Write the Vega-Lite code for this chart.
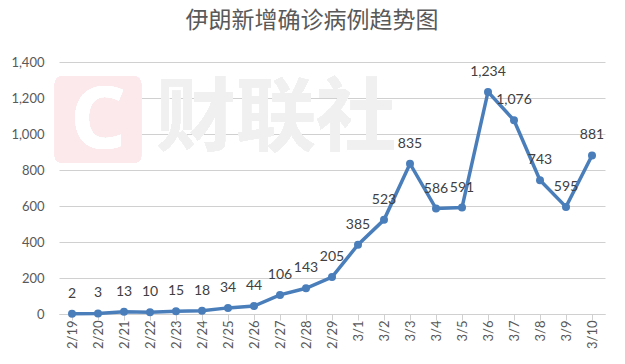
{
  "$schema": "https://vega.github.io/schema/vega-lite/v6.json",
  "width": 546,
  "height": 252,
  "autosize": "none",
  "padding": {"left": 59, "top": 62, "right": 20, "bottom": 50},
  "background": "white",
  "title": {
    "text": "伊朗新增确诊病例趋势图",
    "anchor": "middle",
    "frame": "group",
    "dx": -20,
    "offset": 12,
    "baseline": "middle",
    "font": "Noto Sans CJK SC",
    "fontSize": 23,
    "fontWeight": "normal",
    "color": "#595959"
  },
  "config": {
    "view": {"stroke": null},
    "axis": {"labelFont": "Lato", "labelColor": "#595959"},
    "axisY": {"grid": true, "gridColor": "#d0d0d0", "gridOpacity": 1, "gridWidth": 1}
  },
  "data": {
    "values": [
      {"date": "2/19", "cases": 2},
      {"date": "2/20", "cases": 3},
      {"date": "2/21", "cases": 13},
      {"date": "2/22", "cases": 10},
      {"date": "2/23", "cases": 15},
      {"date": "2/24", "cases": 18},
      {"date": "2/25", "cases": 34},
      {"date": "2/26", "cases": 44},
      {"date": "2/27", "cases": 106},
      {"date": "2/28", "cases": 143},
      {"date": "2/29", "cases": 205},
      {"date": "3/1", "cases": 385},
      {"date": "3/2", "cases": 523},
      {"date": "3/3", "cases": 835},
      {"date": "3/4", "cases": 586},
      {"date": "3/5", "cases": 591},
      {"date": "3/6", "cases": 1234},
      {"date": "3/7", "cases": 1076},
      {"date": "3/8", "cases": 743},
      {"date": "3/9", "cases": 595},
      {"date": "3/10", "cases": 881}
    ]
  },
  "resolve": {"axis": {"x": "independent", "y": "independent"}},
  "layer": [
    {
      "mark": {"type": "line", "color": "#4a7ebb", "strokeWidth": 3.5, "opacity": 0},
      "encoding": {
        "x": {
          "field": "date", "type": "nominal",
          "scale": {"domain": ["2/19","2/20","2/21","2/22","2/23","2/24","2/25","2/26","2/27","2/28","2/29","3/1","3/2","3/3","3/4","3/5","3/6","3/7","3/8","3/9","3/10"]},
          "axis": {"orient": "bottom", "title": null, "labelAngle": -90, "labelPadding": 6, "labelFontSize": 13, "ticks": false, "domain": false, "grid": false}
        },
        "y": {"field": "cases", "type": "quantitative", "scale": {"domain": [0, 1400]}, "axis": {"orient": "left", "title": null, "values": [0,200,400,600,800,1000,1200,1400], "labelExpr": "format(datum.value, ',')", "labelFontSize": 13, "labelPadding": 15, "ticks": false, "domain": false, "grid": true, "gridColor": "#d0d0d0", "gridWidth": 1, "gridOpacity": 1}}
      }
    },
    {
      "mark": {"type": "point", "filled": true, "opacity": 1, "color": "#fbe9ec", "shape": "M -0.78,-1 L 0.78,-1 Q 1,-1 1,-0.78 L 1,0.78 Q 1,1 0.78,1 L -0.78,1 Q -1,1 -1,0.78 L -1,-0.78 Q -1,-1 -0.78,-1 Z", "size": 7569},
      "encoding": {
        "x": {"datum": "2/20", "type": "nominal", "axis": null, "scale": {"domain": ["2/19","2/20","2/21","2/22","2/23","2/24","2/25","2/26","2/27","2/28","2/29","3/1","3/2","3/3","3/4","3/5","3/6","3/7","3/8","3/9","3/10"]}},
        "y": {"datum": 1080, "type": "quantitative", "scale": {"domain": [0, 1400]}, "axis": null}
      }
    },
    {
      "mark": {"type": "text", "text": "C", "font": "Noto Sans", "fontWeight": "bold", "fontSize": 86, "color": "white", "baseline": "middle", "align": "center", "dy": 2},
      "encoding": {
        "x": {"datum": "2/20", "type": "nominal", "axis": null, "scale": {"domain": ["2/19","2/20","2/21","2/22","2/23","2/24","2/25","2/26","2/27","2/28","2/29","3/1","3/2","3/3","3/4","3/5","3/6","3/7","3/8","3/9","3/10"]}},
        "y": {"datum": 1080, "type": "quantitative", "scale": {"domain": [0, 1400]}, "axis": null}
      }
    },
    {
      "mark": {"type": "text", "text": "财联社", "font": "Noto Sans CJK SC", "fontWeight": "bold", "fontSize": 80, "color": "#f0f0f0", "baseline": "middle", "align": "center", "dx": -4},
      "encoding": {
        "x": {"datum": "2/27", "type": "nominal", "axis": null, "scale": {"domain": ["2/19","2/20","2/21","2/22","2/23","2/24","2/25","2/26","2/27","2/28","2/29","3/1","3/2","3/3","3/4","3/5","3/6","3/7","3/8","3/9","3/10"]}},
        "y": {"datum": 1080, "type": "quantitative", "scale": {"domain": [0, 1400]}, "axis": null}
      }
    },
    {
      "mark": {"type": "line", "color": "#4a7ebb", "strokeWidth": 3.5},
      "encoding": {
        "x": {"field": "date", "type": "nominal", "axis": null, "scale": {"domain": ["2/19","2/20","2/21","2/22","2/23","2/24","2/25","2/26","2/27","2/28","2/29","3/1","3/2","3/3","3/4","3/5","3/6","3/7","3/8","3/9","3/10"]}},
        "y": {"field": "cases", "type": "quantitative", "scale": {"domain": [0, 1400]}, "axis": null}
      }
    },
    {
      "mark": {"type": "point", "filled": true, "opacity": 1, "color": "#4a7ebb", "size": 64},
      "encoding": {
        "x": {
          "field": "date", "type": "nominal",
          "scale": {"domain": ["2/19","2/20","2/21","2/22","2/23","2/24","2/25","2/26","2/27","2/28","2/29","3/1","3/2","3/3","3/4","3/5","3/6","3/7","3/8","3/9","3/10"]},
          "axis": {"orient": "bottom", "title": null, "labels": false, "bandPosition": 0, "ticks": true, "tickSize": 6, "tickColor": "#d0d0d0", "domain": true, "domainColor": "#d0d0d0", "grid": false}
        },
        "y": {"field": "cases", "type": "quantitative", "scale": {"domain": [0, 1400]}, "axis": null}
      }
    },
    {
      "mark": {"type": "text", "dy": -20, "baseline": "middle", "align": "center", "font": "Lato", "fontSize": 14, "color": "#404040"},
      "encoding": {
        "x": {"field": "date", "type": "nominal", "axis": null, "scale": {"domain": ["2/19","2/20","2/21","2/22","2/23","2/24","2/25","2/26","2/27","2/28","2/29","3/1","3/2","3/3","3/4","3/5","3/6","3/7","3/8","3/9","3/10"]}},
        "y": {"field": "cases", "type": "quantitative", "scale": {"domain": [0, 1400]}, "axis": null},
        "text": {"field": "cases", "type": "quantitative", "format": ","}
      }
    }
  ]
}
